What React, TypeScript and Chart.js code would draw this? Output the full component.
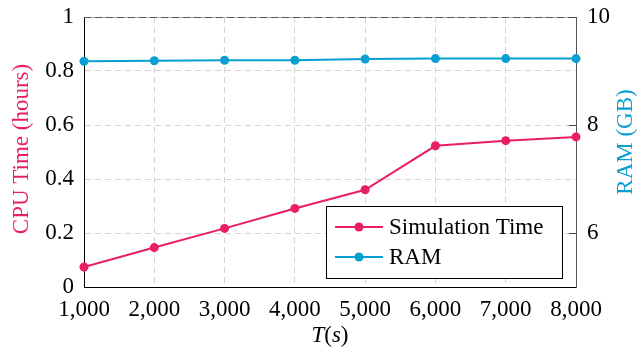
import React, { useEffect, useRef } from "react";
import { Chart, registerables } from "chart.js";

Chart.register(...registerables);

const xValues = [1000, 2000, 3000, 4000, 5000, 6000, 7000, 8000];
const cpuHours = [0.074, 0.146, 0.217, 0.291, 0.36, 0.523, 0.542, 0.556];
const ramGB = [9.18, 9.19, 9.2, 9.2, 9.22, 9.23, 9.23, 9.23];
const rightTicks = [6, 8, 10];

const PINK = "#E91E63";
const BLUE = "#0A9FD2";
const FONT = '"Liberation Serif", "Times New Roman", serif';
const FS = 23;

const overlayPlugin = {
  id: "overlay",
  beforeDatasetsDraw(chart: any) {
    const { ctx, chartArea } = chart;
    ctx.save();
    ctx.lineWidth = 1;
    ctx.strokeStyle = "#b0b0b0";
    ctx.beginPath();
    ctx.moveTo(chartArea.left, chartArea.top + 0.5);
    ctx.lineTo(chartArea.right, chartArea.top + 0.5);
    ctx.stroke();
    ctx.strokeStyle = "#555";
    ctx.setLineDash([7, 4]);
    ctx.beginPath();
    ctx.moveTo(chartArea.left, chartArea.top + 0.5);
    ctx.lineTo(chartArea.right, chartArea.top + 0.5);
    ctx.stroke();
    ctx.setLineDash([]);
    const yr = chart.scales.yRight;
    ctx.strokeStyle = "#444";
    rightTicks.forEach((v) => {
      const y = Math.round(yr.getPixelForValue(v)) + 0.5;
      ctx.beginPath();
      ctx.moveTo(chartArea.right - 7, y);
      ctx.lineTo(chartArea.right, y);
      ctx.stroke();
    });
    ctx.restore();
  },
  afterDraw(chart: any) {
    const { ctx, chartArea } = chart;
    ctx.save();
    ctx.font = `${FS}px ${FONT}`;
    ctx.textBaseline = "middle";
    ctx.textAlign = "center";
    // left title
    ctx.save();
    ctx.translate(22, 149);
    ctx.rotate(-Math.PI / 2);
    ctx.fillStyle = PINK;
    ctx.fillText("CPU Time (hours)", 0, 0);
    ctx.restore();
    // right title
    ctx.save();
    ctx.translate(626, 142);
    ctx.rotate(-Math.PI / 2);
    ctx.fillStyle = BLUE;
    ctx.fillText("RAM (GB)", 0, 0);
    ctx.restore();
    // x title  T(s)
    const parts = [
      { t: "T", it: true },
      { t: "(", it: false },
      { t: "s", it: true },
      { t: ")", it: false },
    ];
    let total = 0;
    const widths = parts.map((p) => {
      ctx.font = `${p.it ? "italic " : ""}${FS}px ${FONT}`;
      const w = ctx.measureText(p.t).width;
      total += w;
      return w;
    });
    let x = (chartArea.left + chartArea.right) / 2 - total / 2;
    ctx.textAlign = "left";
    ctx.fillStyle = "#000";
    parts.forEach((p, i) => {
      ctx.font = `${p.it ? "italic " : ""}${FS}px ${FONT}`;
      ctx.fillText(p.t, x, 336);
      x += widths[i];
    });
    // legend
    const lx = 326, ly = 206, lw = 236, lh = 72;
    ctx.fillStyle = "#fff";
    ctx.fillRect(lx, ly, lw, lh);
    ctx.strokeStyle = "#000";
    ctx.lineWidth = 1;
    ctx.strokeRect(lx + 0.5, ly + 0.5, lw, lh);
    const entries = [
      { label: "Simulation Time", color: PINK, y: 227 },
      { label: "RAM", color: BLUE, y: 257 },
    ];
    ctx.font = `${FS}px ${FONT}`;
    entries.forEach((e) => {
      ctx.strokeStyle = e.color;
      ctx.lineWidth = 2;
      ctx.beginPath();
      ctx.moveTo(335, e.y);
      ctx.lineTo(383, e.y);
      ctx.stroke();
      ctx.fillStyle = e.color;
      ctx.beginPath();
      ctx.arc(359, e.y, 4.5, 0, Math.PI * 2);
      ctx.fill();
      ctx.fillStyle = "#000";
      ctx.fillText(e.label, 389, e.y + 1);
    });
    ctx.restore();
  },
};

export default function App() {
  const ref = useRef<HTMLCanvasElement>(null);
  useEffect(() => {
    if (!ref.current) return;
    const gridColor = "#d4d4d4";
    const chart = new Chart(ref.current, {
      type: "line",
      data: {
        datasets: [
          {
            label: "Simulation Time",
            data: xValues.map((x, i) => ({ x, y: cpuHours[i] })),
            borderColor: PINK,
            backgroundColor: PINK,
            borderWidth: 2,
            pointRadius: 4.5,
            pointBorderWidth: 0,
            yAxisID: "y",
            clip: false as any,
          },
          {
            label: "RAM",
            data: xValues.map((x, i) => ({ x, y: ramGB[i] })),
            borderColor: BLUE,
            backgroundColor: BLUE,
            borderWidth: 2,
            pointRadius: 4.5,
            pointBorderWidth: 0,
            yAxisID: "yRight",
            clip: false as any,
          },
        ],
      },
      options: {
        animation: false,
        responsive: false,
        devicePixelRatio: 1,
        layout: { padding: { top: 17, left: 0, right: 0, bottom: 0 } },
        plugins: {
          legend: { display: false },
          tooltip: { enabled: false },
        },
        scales: {
          x: {
            type: "linear",
            min: 1000,
            max: 8000,
            ticks: {
              stepSize: 1000,
              padding: 9,
              color: "#000",
              font: { family: FONT, size: FS },
              maxRotation: 0,
              callback: (v: any) => Number(v).toLocaleString("en-US"),
            },
            grid: { color: gridColor, drawTicks: false, lineWidth: 1 },
            border: { color: "#000", width: 1, dash: [6, 4] },
            afterFit: (s: any) => {
              s.height = 64;
              s.paddingLeft = 0;
              s.paddingRight = 0;
            },
          },
          y: {
            position: "left",
            min: 0,
            max: 1,
            ticks: {
              stepSize: 0.2,
              padding: 10,
              color: "#000",
              font: { family: FONT, size: FS },
              callback: (v: any) => String(Math.round(Number(v) * 10) / 10),
            },
            grid: { color: gridColor, drawTicks: false, lineWidth: 1 },
            border: { color: "#000", width: 1, dash: [6, 4] },
            afterFit: (s: any) => {
              s.width = 84;
              s.paddingTop = 0;
              s.paddingBottom = 0;
            },
          },
          yRight: {
            position: "right",
            min: 5,
            max: 10,
            afterBuildTicks: (s: any) => {
              s.ticks = rightTicks.map((v) => ({ value: v }));
            },
            ticks: {
              padding: 11,
              color: "#000",
              font: { family: FONT, size: FS },
            },
            grid: { display: false, drawTicks: false },
            border: { color: "#555", width: 1 },
            afterFit: (s: any) => {
              s.width = 63;
              s.paddingTop = 0;
              s.paddingBottom = 0;
            },
          },
        },
      } as any,
      plugins: [overlayPlugin],
    });
    return () => chart.destroy();
  }, []);
  return (
    <div style={{ position: "absolute", left: 0, top: 0, width: 639, height: 351, background: "#fff" }}>
      <canvas ref={ref} width={639} height={351} />
    </div>
  );
}
